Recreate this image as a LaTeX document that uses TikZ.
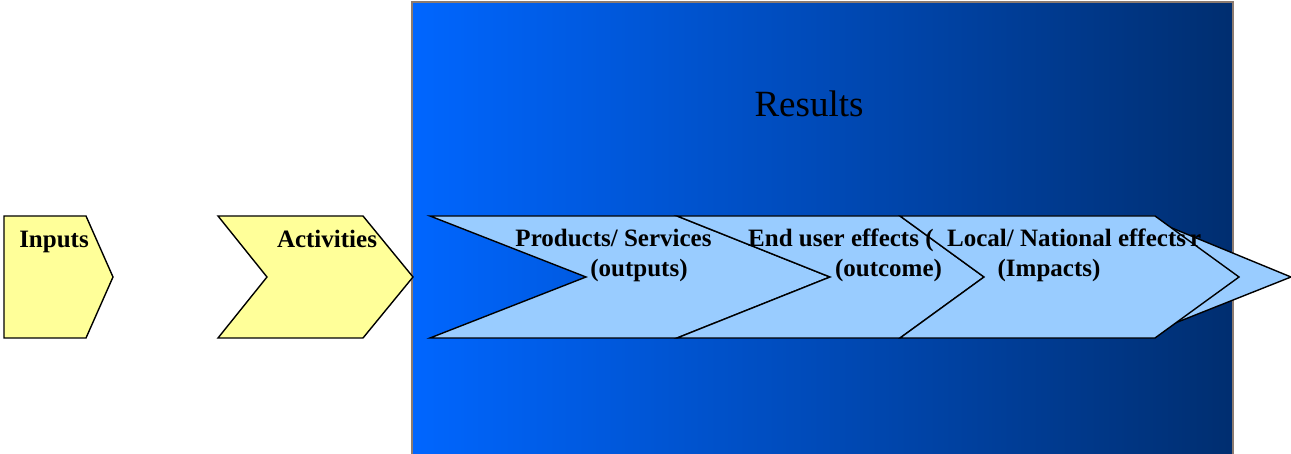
\documentclass[tikz,border=0pt]{standalone}
\usepackage{fontspec}
\setmainfont{Liberation Serif}
\begin{document}
\definecolor{chevyellow}{RGB}{255,255,153}
\definecolor{chevblue}{RGB}{153,204,255}
\definecolor{resleft}{RGB}{0,102,255}
\definecolor{resright}{RGB}{0,46,112}
\definecolor{resborder}{RGB}{140,123,112}
\begin{tikzpicture}[x=1pt,y=-1pt,
  yshape/.style={fill=chevyellow,draw=black,line width=1.4pt,line join=miter},
  bshape/.style={fill=chevblue,draw=black,line width=1.4pt,line join=miter},
  lbl/.style={font=\fontsize{25}{30}\selectfont\bfseries,inner sep=0pt,anchor=base,text=black}]
\clip (0,0) rectangle (1291,454);
% results panel
\draw[left color=resleft,right color=resright,draw=resborder,line width=1.6pt] (412,2) rectangle (1233,470);
\node[font=\fontsize{37}{44}\selectfont,anchor=base,inner sep=0pt] (results) at (809,116.5) {Results};
% yellow chevrons
\draw[yshape] (4,216) -- (86,216) -- (113,277) -- (86,338) -- (4,338) -- cycle;
\draw[yshape] (218,216) -- (363,216) -- (413,277) -- (363,338) -- (218,338) -- (267,277) -- cycle;
% blue chevrons
\draw[bshape] (430,216) -- (677,216) -- (830,277) -- (677,338) -- (430,338) -- (586,277) -- cycle;
\draw[bshape] (677,216) -- (900,216) -- (984,277) -- (900,338) -- (677,338) -- (830,277) -- cycle;
\draw[bshape] (1150,219) -- (1291,277) -- (1150,333) -- cycle;
\draw[bshape] (900,216) -- (1155,216) -- (1239,277) -- (1155,338) -- (900,338) -- (984,277) -- cycle;
% labels
\node[lbl] (inputs) at (54,248) {Inputs};
\node[lbl] (activities) at (327,248) {Activities};
\node[lbl] (prod1) at (613.5,247) {Products/ Services};
\node[lbl] (prod2) at (639,277) {(outputs)};
\node[lbl,anchor=base west] (end1) at (748,247) {End user effects (};
\node[lbl] (end2) at (888.5,277) {(outcome)};
\node[lbl,anchor=base west] (loc1) at (947,247) {Local/ National effects};
\node[lbl,anchor=base west] (locr) at (1190,247) {r};
\node[lbl] (loc2) at (1049,277) {(Impacts)};
\end{tikzpicture}
\end{document}
